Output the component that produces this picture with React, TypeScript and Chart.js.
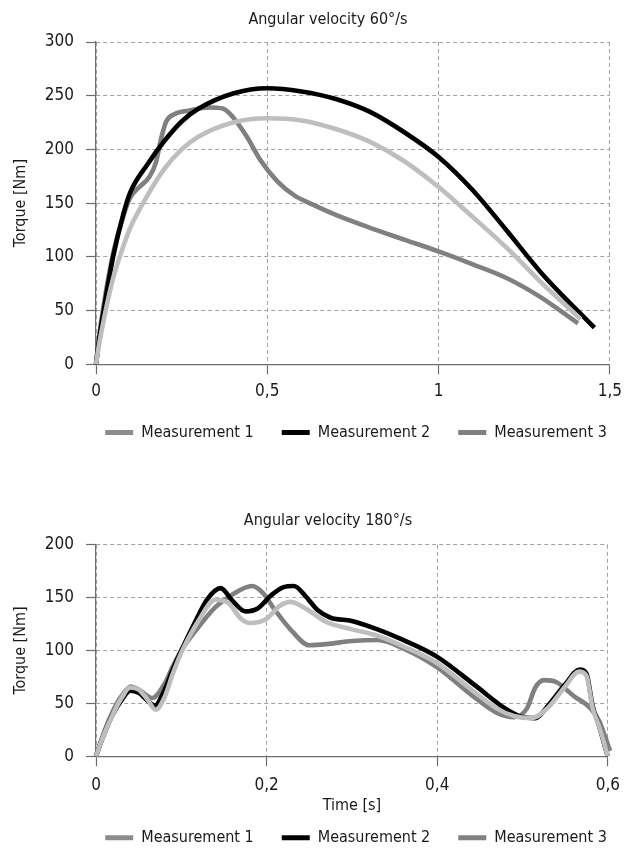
import React, { useEffect, useRef } from 'react';
import { Chart, registerables } from 'chart.js';

Chart.register(...registerables);

const FONT = "'DejaVu Sans Condensed', 'Liberation Sans Narrow', sans-serif";

// ---------- labels ----------
const seriesNames = ['Measurement 1', 'Measurement 2', 'Measurement 3'];
const lineColors = ['#bebebe', '#000000', '#808080'];
const legendColors = ['#8c8c8c', '#000000', '#808080'];
const title60 = 'Angular velocity 60°/s';
const title180 = 'Angular velocity 180°/s';
const yTitle = 'Torque [Nm]';
const xTitle = 'Time [s]';

// ---------- 60°/s ----------
const m1Time60 = [0, 0.01, 0.025, 0.05, 0.08, 0.1, 0.15, 0.2, 0.25, 0.3, 0.4, 0.5, 0.6, 0.7, 0.8, 0.9, 1.0, 1.1, 1.2, 1.3, 1.415];
const m1Torque60 = [0, 20, 45, 80, 110, 127, 157, 182, 200, 212, 225, 229, 227, 219, 207, 189, 165, 137, 108, 76, 42];

const m2Time60 = [0, 0.01, 0.025, 0.05, 0.08, 0.1, 0.15, 0.2, 0.25, 0.3, 0.4, 0.5, 0.6, 0.7, 0.8, 0.9, 1.0, 1.1, 1.2, 1.3, 1.455];
const m2Torque60 = [0, 25, 55, 100, 140, 160, 186, 208, 226, 238, 252, 257, 254, 247, 235, 216, 193, 162, 124, 85, 34];

const m3Time60 = [0, 0.01, 0.025, 0.05, 0.08, 0.1, 0.13, 0.155, 0.175, 0.19, 0.205, 0.23, 0.27, 0.33, 0.37, 0.4, 0.44, 0.48, 0.53, 0.58, 0.63, 0.7, 0.8, 0.9, 1.0, 1.1, 1.2, 1.3, 1.35, 1.407];
const m3Torque60 = [0, 28, 60, 103, 138, 155, 166, 174, 188, 210, 226, 233, 236, 239, 238, 230, 212, 190, 170, 157, 149, 139, 127, 116, 105, 93, 80, 62, 51, 38];

// ---------- 180°/s ----------
const m1Time180 = [0, 0.01, 0.02, 0.03, 0.04, 0.05, 0.06, 0.07, 0.08, 0.09, 0.1, 0.12, 0.14, 0.155, 0.17, 0.18, 0.2, 0.215, 0.228, 0.245, 0.27, 0.3, 0.33, 0.36, 0.4, 0.44, 0.47, 0.49, 0.51, 0.53, 0.55, 0.566, 0.575, 0.582, 0.59, 0.6];
const m1Torque180 = [0, 22, 40, 55, 65, 63, 54, 44, 55, 78, 98, 128, 148, 145, 130, 126, 130, 142, 146, 140, 127, 120, 114, 104, 88, 63, 45, 38, 36, 46, 66, 80, 76, 46, 28, 0];

const m2Time180 = [0, 0.01, 0.02, 0.03, 0.04, 0.05, 0.06, 0.069, 0.08, 0.09, 0.1, 0.115, 0.13, 0.146, 0.16, 0.175, 0.19, 0.205, 0.22, 0.232, 0.245, 0.26, 0.275, 0.3, 0.33, 0.36, 0.4, 0.446, 0.48, 0.5, 0.515, 0.53, 0.55, 0.567, 0.575, 0.582, 0.59, 0.598, 0.6];
const m2Torque180 = [0, 22, 40, 53, 62, 60, 53, 48, 62, 82, 100, 125, 148, 159, 147, 137, 140, 152, 160, 161, 152, 138, 131, 128, 120, 110, 94, 66, 45, 37, 36, 48, 68, 82, 78, 48, 28, 5, 0];

const m3Time180 = [0, 0.01, 0.02, 0.03, 0.041, 0.05, 0.066, 0.08, 0.09, 0.1, 0.12, 0.14, 0.16, 0.183, 0.195, 0.21, 0.23, 0.25, 0.27, 0.3, 0.33, 0.36, 0.4, 0.44, 0.47, 0.49, 0.505, 0.515, 0.525, 0.54, 0.56, 0.58, 0.59, 0.597, 0.603, 0.613];
const m3Torque180 = [0, 24, 43, 57, 66, 63, 55, 68, 85, 100, 122, 141, 153, 161, 155, 138, 118, 105, 106, 109, 110, 102, 84, 58, 41, 37, 45, 65, 72, 70, 57, 45, 33, 18, 5, 0];

const ticks60X = { min: 0, max: 1.5, step: 0.5 };
const ticks60Y = { min: 0, max: 300, step: 50 };
const ticks180X = { min: 0, max: 0.6, step: 0.2 };
const ticks180Y = { min: 0, max: 200, step: 50 };

const zip = (xs: number[], ys: number[]) => xs.map((x, i) => ({ x, y: ys[i] }));
const fmt = (v: any) => String(Math.round(Number(v) * 10) / 10).replace('.', ',');

const legendShift = {
  id: 'legendShift',
  afterLayout(chart: any, _args: any, opts: any) {
    const l = chart.legend;
    if (!l || !opts) return;
    if (opts.dy) {
      l.top += opts.dy;
      l.bottom += opts.dy;
    }
    if (opts.dx) {
      l.left += opts.dx;
      l.right += opts.dx;
    }
  },
};

function makeConfig(p: {
  title: string;
  series: { x: number[]; y: number[] }[];
  xs: { min: number; max: number; step: number };
  ys: { min: number; max: number; step: number };
  titlePad: { top: number; bottom: number };
  showXTitle: boolean;
  xTitleTop: number;
  xTickPad: number;
  legendDy: number;
  legendDx: number;
  padBottom: number;
}): any {
  const gridColor = '#a3a3a3';
  const axisColor = '#6e6e6e';
  const text = '#1a1a1a';
  return {
    type: 'line',
    data: {
      datasets: p.series.map((s, i) => ({
        label: seriesNames[i],
        data: zip(s.x, s.y),
        borderColor: lineColors[i],
        backgroundColor: legendColors[i],
        borderWidth: 4.6,
        pointRadius: 0,
        pointHoverRadius: 0,
        cubicInterpolationMode: 'monotone',
        fill: false,
        clip: false,
      })),
    },
    plugins: [legendShift],
    options: {
      animation: false,
      responsive: false,
      devicePixelRatio: 1,
      layout: { padding: { left: 44, right: 17, top: 0, bottom: p.padBottom } },
      font: { family: FONT },
      plugins: {
        tooltip: { enabled: false },
        legendShift: { dy: p.legendDy, dx: p.legendDx },
        title: {
          display: true,
          text: p.title,
          color: text,
          font: { family: FONT, size: 16, weight: 'normal' },
          padding: p.titlePad,
        },
        legend: {
          position: 'bottom',
          labels: {
            color: text,
            font: { family: FONT, size: 16 },
            boxWidth: 28,
            boxHeight: 5,
            padding: 28,
            generateLabels: (chart: any) =>
              chart.data.datasets.map((d: any, i: number) => ({
                text: d.label,
                fillStyle: legendColors[i],
                strokeStyle: legendColors[i],
                lineWidth: 0,
                hidden: false,
                datasetIndex: i,
                fontColor: text,
              })),
          },
        },
      },
      scales: {
        x: {
          type: 'linear',
          min: p.xs.min,
          max: p.xs.max,
          ticks: { stepSize: p.xs.step, padding: p.xTickPad, color: text, font: { family: FONT, size: 17 }, callback: fmt, maxRotation: 0 },
          grid: { color: gridColor, lineWidth: 1, tickColor: axisColor, tickLength: 10, tickWidth: 1.2 },
          border: { color: axisColor, width: 1.2, dash: [4, 3] },
          title: {
            display: p.showXTitle,
            text: xTitle,
            color: text,
            font: { family: FONT, size: 16 },
            padding: { top: p.xTitleTop, bottom: 0 },
          },
        },
        y: {
          type: 'linear',
          min: p.ys.min,
          max: p.ys.max,
          ticks: { stepSize: p.ys.step, padding: 12, color: text, font: { family: FONT, size: 17 } },
          grid: { color: gridColor, lineWidth: 1, tickColor: axisColor, tickLength: 10, tickWidth: 1.2 },
          border: { color: axisColor, width: 1.2, dash: [4, 3] },
          title: {
            display: true,
            text: yTitle,
            color: text,
            font: { family: FONT, size: 16 },
            padding: { top: -32.6, bottom: 0 },
          },
          afterFit: (scale: any) => {
            scale.width = 52;
          },
        },
      },
    },
  };
}

export default function App() {
  const topRef = useRef<HTMLCanvasElement>(null);
  const botRef = useRef<HTMLCanvasElement>(null);

  useEffect(() => {
    const c1 = new Chart(
      topRef.current as HTMLCanvasElement,
      makeConfig({
        title: title60,
        series: [
          { x: m1Time60, y: m1Torque60 },
          { x: m2Time60, y: m2Torque60 },
          { x: m3Time60, y: m3Torque60 },
        ],
        xs: ticks60X,
        ys: ticks60Y,
        titlePad: { top: 10.4, bottom: 12.4 },
        showXTitle: false,
        xTitleTop: 0,
        xTickPad: 7,
        legendDy: -12,
        legendDx: 28,
        padBottom: 1.4,
      })
    );
    const c2 = new Chart(
      botRef.current as HTMLCanvasElement,
      makeConfig({
        title: title180,
        series: [
          { x: m1Time180, y: m1Torque180 },
          { x: m2Time180, y: m2Torque180 },
          { x: m3Time180, y: m3Torque180 },
        ],
        xs: ticks180X,
        ys: ticks180Y,
        titlePad: { top: 47.4, bottom: 14.2 },
        showXTitle: true,
        xTitleTop: -8,
        xTickPad: 9,
        legendDy: -14,
        legendDx: 28,
        padBottom: -18.8,
      })
    );
    return () => {
      c1.destroy();
      c2.destroy();
    };
  }, []);

  return (
    <div style={{ position: 'absolute', left: 0, top: 0, width: 629, height: 851, overflow: 'hidden', background: '#fff' }}>
      <canvas ref={topRef} width={629} height={464} style={{ position: 'absolute', left: 0, top: 0 }} />
      <canvas ref={botRef} width={629} height={387} style={{ position: 'absolute', left: 0, top: 464 }} />
    </div>
  );
}
